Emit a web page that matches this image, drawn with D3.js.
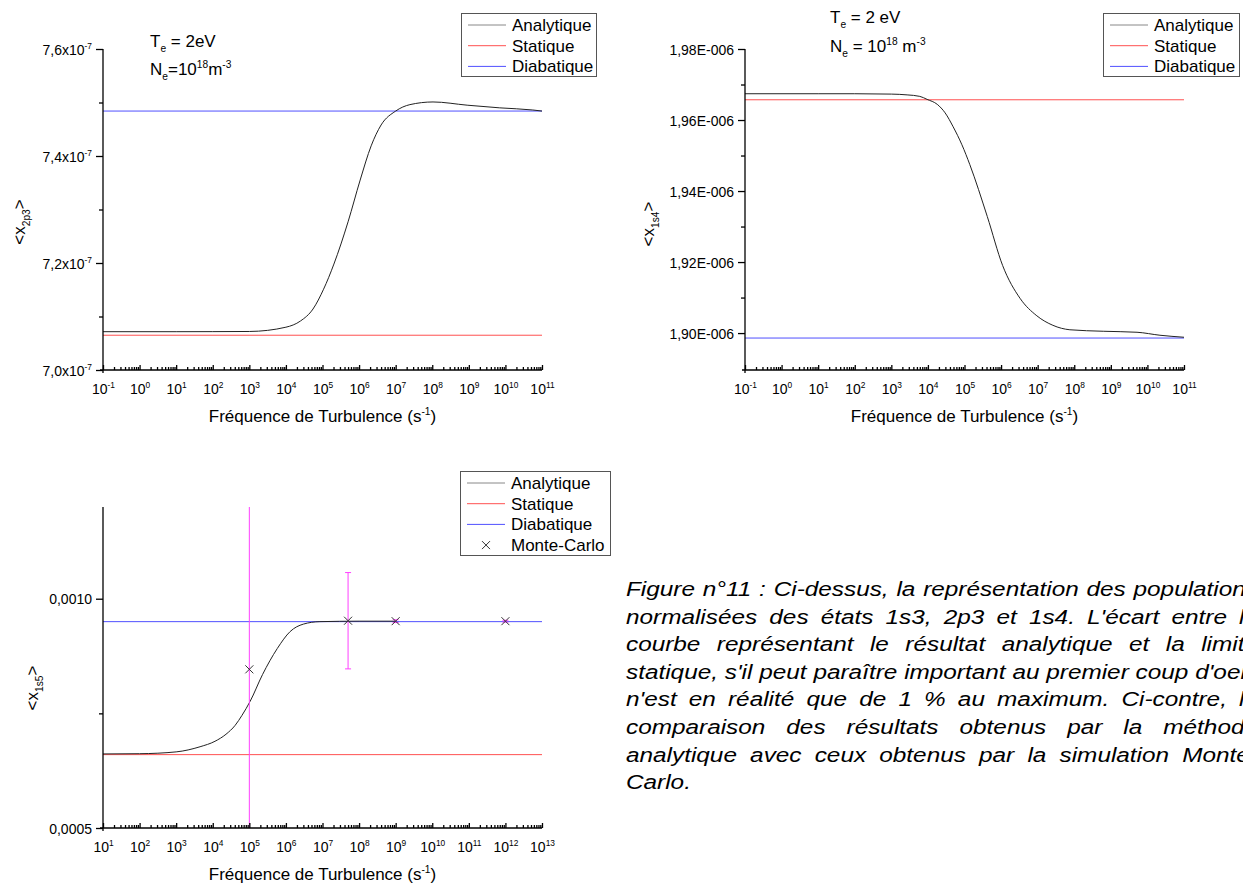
<!DOCTYPE html>
<html>
<head>
<meta charset="utf-8">
<script src="https://cdn.jsdelivr.net/npm/d3@7"></script>
<style>
body { margin: 0; background: #fff; overflow: hidden; }
svg { display: block; }
text { font-family: "Liberation Sans", Arial, sans-serif; fill: #000; }
</style>
</head>
<body>
<svg id="fig" width="1243" height="884"></svg>
<script>
// --- 2p3 (haut gauche)
var freq2p3 = [1e-1, 1e1, 1e2, 1e3, 1e4, 2.5e4, 5.5e4, 1.07e5, 2.05e5, 5e5, 1.07e6, 2.14e6, 4e6, 1e7, 2.45e7, 1.05e8, 9e8, 7e9, 5.6e10, 1e11];
var analytique2p3 = [7.0716e-7, 7.0716e-7, 7.0717e-7, 7.072e-7, 7.080e-7, 7.0916e-7, 7.114e-7, 7.151e-7, 7.198e-7, 7.277e-7, 7.355e-7, 7.419e-7, 7.458e-7, 7.484e-7, 7.496e-7, 7.501e-7, 7.495e-7, 7.490e-7, 7.486e-7, 7.484e-7];
var statique2p3 = 7.065e-7;
var diabatique2p3 = 7.484e-7;
var yTicks2p3 = [7.0e-7, 7.2e-7, 7.4e-7, 7.6e-7];
var yTickLabels2p3 = [['7,0x10', '-7'], ['7,2x10', '-7'], ['7,4x10', '-7'], ['7,6x10', '-7']];
var yMinor2p3 = [7.1e-7, 7.3e-7, 7.5e-7];

// --- 1s4 (haut droite)
var freq1s4 = [1e-1, 1e1, 1e2, 1e3, 2.7e3, 6e3, 9.5e3, 1.8e4, 2.95e4, 4.9e4, 8.5e4, 1.4e5, 4.2e5, 1.1e6, 3.3e6, 9.5e6, 2.6e7, 7.6e7, 6.2e8, 5.2e9, 2.2e10, 1e11];
var analytique1s4 = [1.9674e-6, 1.9674e-6, 1.9674e-6, 1.9673e-6, 1.96708e-6, 1.96666e-6, 1.96581e-6, 1.96441e-6, 1.96202e-6, 1.95809e-6, 1.95303e-6, 1.94742e-6, 1.93281e-6, 1.91905e-6, 1.90978e-6, 1.90486e-6, 1.90219e-6, 1.90093e-6, 1.90051e-6, 1.90023e-6, 1.89939e-6, 1.89882e-6];
var statique1s4 = 1.9657e-6;
var diabatique1s4 = 1.8986e-6;
var yTicks1s4 = [1.90e-6, 1.92e-6, 1.94e-6, 1.96e-6, 1.98e-6];
var yTickLabels1s4 = [['1,90E-006'], ['1,92E-006'], ['1,94E-006'], ['1,96E-006'], ['1,98E-006']];
var yMinor1s4 = [1.91e-6, 1.93e-6, 1.95e-6, 1.97e-6];

// --- 1s5 (bas gauche) avec Monte-Carlo
var freq1s5 = [1e1, 1e2, 1e3, 4.5e3, 1.15e4, 2.3e4, 4.1e4, 6.3e4, 1.05e5, 2.3e5, 5.8e5, 1.3e6, 3e6, 8.5e6, 1e8, 1e9];
var analytique1s5 = [0.0006615, 0.000662, 0.000666, 0.0006772, 0.0006891, 0.0007044, 0.0007239, 0.0007457, 0.0007761, 0.0008348, 0.0008913, 0.0009283, 0.0009446, 0.00095, 0.000951, 0.000951];
var statique1s5 = 0.00066;
var diabatique1s5 = 0.00095;
var freqMC = [1e5, 5e7, 1e9, 1e12];
var valeursMC = [0.000846, 0.000952, 0.000951, 0.000951];
var erreursMC = [0.0006, 0.000105, 0.000003, 0.000002];
var yTicks1s5 = [0.0005, 0.0010];
var yTickLabels1s5 = [['0,0005'], ['0,0010']];
var yMinor1s5 = [0.00075];

var legendNames = ['Analytique', 'Statique', 'Diabatique'];
var legendColors = ['#222', '#ff5050', '#5050ff'];

var captionLines = [
    "Figure n°11 : Ci-dessus, la représentation des populations",
    "normalisées des états 1s3, 2p3 et 1s4. L'écart entre la",
    "courbe représentant le résultat analytique et la limite",
    "statique, s'il peut paraître important au premier coup d'oeil,",
    "n'est en réalité que de 1 % au maximum. Ci-contre, la",
    "comparaison des résultats obtenus par la méthode",
    "analytique avec ceux obtenus par la simulation Monte-",
    "Carlo."
];

var svg = d3.select('#fig');

// texte avec indices / exposants : parts = [[texte, 'sub'|'sup'|undefined], ...]
function rich(g, x, y, parts, size) {
    var t = g.append('text').attr('x', x).attr('y', y).attr('font-size', size);
    var shift = 0;
    parts.forEach(function(p) {
        var target = p[1] === 'sub' ? 0.32 * size : p[1] === 'sup' ? -0.42 * size : 0;
        t.append('tspan')
            .attr('dy', target - shift)
            .attr('font-size', p[1] ? size * 0.6 : size)
            .text(p[0]);
        shift = target;
    });
    return t;
}

function decades(lo, hi) {
    var out = [];
    for (var k = lo; k <= hi; k++) out.push(Math.pow(10, k));
    return out;
}
function minorDecades(lo, hi) {
    var out = [];
    for (var k = lo; k < hi; k++)
        for (var m = 2; m <= 9; m++) out.push(m * Math.pow(10, k));
    return out;
}

function panel(cfg) {
    var x = d3.scaleLog().domain(cfg.xDomain).range(cfg.xRange);
    var y = d3.scaleLinear().domain(cfg.yDomain).range(cfg.yRange);
    var g = svg.append('g');

    g.append('clipPath').attr('id', cfg.id + '-clip')
        .append('rect')
        .attr('x', cfg.xRange[0]).attr('y', cfg.yRange[1])
        .attr('width', cfg.xRange[1] - cfg.xRange[0])
        .attr('height', cfg.yRange[0] - cfg.yRange[1]);
    var plot = g.append('g').attr('clip-path', 'url(#' + cfg.id + '-clip)');

    [[cfg.statique, legendColors[1]], [cfg.diabatique, legendColors[2]]].forEach(function(h) {
        plot.append('line')
            .attr('x1', x(cfg.xDomain[0])).attr('x2', x(cfg.xDomain[1]))
            .attr('y1', y(h[0])).attr('y2', y(h[0]))
            .attr('stroke', h[1]).attr('stroke-width', 1);
    });

    var line = d3.line()
        .x(d => x(d[0]))
        .y(d => y(d[1]))
        .curve(d3.curveMonotoneX);
    plot.append('path')
        .datum(d3.zip(cfg.freq, cfg.analytique))
        .attr('d', line)
        .attr('fill', 'none')
        .attr('stroke', legendColors[0])
        .attr('stroke-width', 1);

    if (cfg.mc) {
        var mc = d3.zip(cfg.mc.freq, cfg.mc.val, cfg.mc.err);
        var bars = plot.selectAll('g.err').data(mc).enter().append('g').attr('class', 'err')
            .attr('stroke', '#ff40ff').attr('stroke-width', 1);
        bars.append('line')
            .attr('x1', d => x(d[0])).attr('x2', d => x(d[0]))
            .attr('y1', d => y(d[1] - d[2])).attr('y2', d => y(d[1] + d[2]));
        [1, -1].forEach(function(s) {
            bars.append('line')
                .attr('x1', d => x(d[0]) - 3).attr('x2', d => x(d[0]) + 3)
                .attr('y1', d => y(d[1] + s * d[2])).attr('y2', d => y(d[1] + s * d[2]));
        });
        plot.selectAll('path.mc').data(mc).enter().append('path').attr('class', 'mc')
            .attr('d', d => {
                var cx = x(d[0]), cy = y(d[1]), r = 4;
                return 'M' + (cx - r) + ',' + (cy - r) + 'L' + (cx + r) + ',' + (cy + r) +
                       'M' + (cx - r) + ',' + (cy + r) + 'L' + (cx + r) + ',' + (cy - r);
            })
            .attr('stroke', '#333').attr('stroke-width', 1).attr('fill', 'none');
    }

    // axe Y
    var yAxis = g.append('g').attr('transform', 'translate(' + cfg.xRange[0] + ',0)');
    yAxis.call(d3.axisLeft(y).tickValues(cfg.yTicks).tickSize(7).tickPadding(4).tickFormat(''));
    g.append('g').attr('transform', 'translate(' + cfg.xRange[0] + ',0)')
        .call(d3.axisLeft(y).tickValues(cfg.yMinor).tickSize(4).tickFormat(''))
        .select('.domain').remove();
    yAxis.selectAll('.tick text').remove();
    yAxis.selectAll('.tick').each(function(d, i) {
        var parts = cfg.yTickLabels[i];
        rich(d3.select(this), -11, 5, [[parts[0]], parts[1] ? [parts[1], 'sup'] : ['']], 14)
            .attr('text-anchor', 'end');
    });
    yAxis.select('.domain').attr('d', 'M0,' + (cfg.yRange[0] + 3) + 'V' + cfg.yRange[1]);

    // axe X (graduations vers l'intérieur)
    var xAxis = g.append('g').attr('transform', 'translate(0,' + cfg.yRange[0] + ')');
    xAxis.call(d3.axisBottom(x).tickValues(decades(cfg.xExp[0], cfg.xExp[1])).tickSize(-5).tickFormat(''));
    g.append('g').attr('transform', 'translate(0,' + cfg.yRange[0] + ')')
        .call(d3.axisBottom(x).tickValues(minorDecades(cfg.xExp[0], cfg.xExp[1])).tickSize(-3).tickFormat(''))
        .select('.domain').remove();
    xAxis.selectAll('.tick text').remove();
    xAxis.selectAll('.tick').each(function(d) {
        var e = Math.round(Math.log10(d));
        rich(d3.select(this), 0, 24, [['10'], [String(e), 'sup']], 14)
            .attr('text-anchor', 'middle');
    });
    xAxis.select('.domain').attr('d', 'M' + (cfg.xRange[0] - 3) + ',0H' + cfg.xRange[1]);
    g.selectAll('.domain, .tick line').attr('stroke', '#000').attr('stroke-width', 1.3);

    // titres
    var cx = (cfg.xRange[0] + cfg.xRange[1]) / 2;
    rich(g, cx, cfg.yRange[0] + 52, [['Fréquence de Turbulence (s'], ['-1', 'sup'], [')']], 17)
        .attr('text-anchor', 'middle');
    rich(g, 0, 0, [['<x'], [cfg.yLabel, 'sub'], ['>']], 17)
        .attr('text-anchor', 'middle')
        .attr('transform', 'translate(' + cfg.yLabelPos[0] + ',' + cfg.yLabelPos[1] + ') rotate(-90)');

    return { x: x, y: y, g: g };
}

function legend(box, withMC) {
    var g = svg.append('g');
    g.append('rect')
        .attr('x', box.x + 0.5).attr('y', box.y + 0.5)
        .attr('width', box.w).attr('height', box.h)
        .attr('fill', '#fff').attr('stroke', '#555').attr('stroke-width', 1);
    var names = withMC ? legendNames.concat(['Monte-Carlo']) : legendNames;
    names.forEach(function(name, i) {
        var yy = box.y + 12 + i * 20.7;
        if (i < 3) {
            g.append('line')
                .attr('x1', box.x + 7).attr('x2', box.x + 45)
                .attr('y1', yy).attr('y2', yy)
                .attr('stroke', i === 0 ? '#888' : legendColors[i]).attr('stroke-width', 1);
        } else {
            var cx = box.x + 26, r = 4;
            g.append('path')
                .attr('d', 'M' + (cx - r) + ',' + (yy - r) + 'L' + (cx + r) + ',' + (yy + r) +
                           'M' + (cx - r) + ',' + (yy + r) + 'L' + (cx + r) + ',' + (yy - r))
                .attr('stroke', '#333').attr('fill', 'none');
        }
        g.append('text').attr('x', box.x + 51).attr('y', yy + 6)
            .attr('font-size', 17).text(name);
    });
}

panel({
    id: 'p2p3', xDomain: [1e-1, 1e11], xExp: [-1, 11], xRange: [103, 542],
    yDomain: [7.0e-7, 7.6e-7], yRange: [370, 49],
    freq: freq2p3, analytique: analytique2p3,
    statique: statique2p3, diabatique: diabatique2p3,
    yTicks: yTicks2p3, yTickLabels: yTickLabels2p3, yMinor: yMinor2p3,
    yLabel: '2p3', yLabelPos: [25, 222]
});
legend({ x: 461, y: 13, w: 135, h: 63 }, false);
rich(svg, 150, 47, [['T'], ['e', 'sub'], [' = 2eV']], 17);
rich(svg, 150, 75, [['N'], ['e', 'sub'], ['=10'], ['18', 'sup'], ['m'], ['-3', 'sup']], 17);

panel({
    id: 'p1s4', xDomain: [1e-1, 1e11], xExp: [-1, 11], xRange: [745, 1184],
    yDomain: [1.8896e-6, 1.98e-6], yRange: [370, 49],
    freq: freq1s4, analytique: analytique1s4,
    statique: statique1s4, diabatique: diabatique1s4,
    yTicks: yTicks1s4, yTickLabels: yTickLabels1s4, yMinor: yMinor1s4,
    yLabel: '1s4', yLabelPos: [654, 224]
});
legend({ x: 1103, y: 13, w: 136, h: 63 }, false);
rich(svg, 830, 23, [['T'], ['e', 'sub'], [' = 2 eV']], 17);
rich(svg, 830, 52, [['N'], ['e', 'sub'], [' = 10'], ['18', 'sup'], [' m'], ['-3', 'sup']], 17);

panel({
    id: 'p1s5', xDomain: [1e1, 1e13], xExp: [1, 13], xRange: [103, 542],
    yDomain: [0.0005, 0.0012], yRange: [828, 507],
    freq: freq1s5, analytique: analytique1s5,
    statique: statique1s5, diabatique: diabatique1s5,
    yTicks: yTicks1s5, yTickLabels: yTickLabels1s5, yMinor: yMinor1s5,
    yLabel: '1s5', yLabelPos: [38, 688],
    mc: { freq: freqMC, val: valeursMC, err: erreursMC }
});
legend({ x: 460, y: 471, w: 150, h: 84 }, true);

// légende de la figure, justifiée ligne par ligne ; la ligne 4 donne la largeur naturelle
var capW = 632;
var cap = svg.append('g').attr('font-size', 21).attr('font-style', 'italic');
var capTexts = captionLines.map(function(s, i) {
    return cap.append('text').attr('x', 0).attr('y', 596 + i * 27.6).text(s);
});
var sx = capW / capTexts[3].node().getComputedTextLength();
cap.attr('transform', 'translate(626,0) scale(' + sx + ',1)');
capTexts.forEach(function(t, i) {
    if (i === captionLines.length - 1) return;
    var w = t.node().getComputedTextLength();
    var n = captionLines[i].split(' ').length - 1;
    t.attr('word-spacing', (capW / sx - w) / n);
});
</script>
</body>
</html>
